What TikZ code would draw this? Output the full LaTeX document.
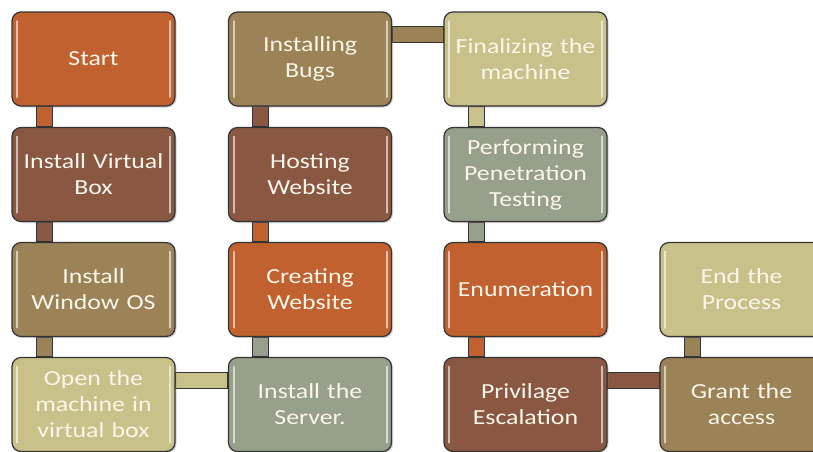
\documentclass[tikz,border=0pt]{standalone}
\usepackage{fontspec}
\setmainfont{Carlito}[FakeStretch=1.2, WordSpace=0.6]
\usetikzlibrary{shadows}
\pgfdeclarelayer{background}
\pgfsetlayers{background,main}
\definecolor{corange}{HTML}{C0612F}
\definecolor{cbrown}{HTML}{8A5842}
\definecolor{ctan}{HTML}{9B8257}
\definecolor{ckhaki}{HTML}{C9C18A}
\definecolor{cgrey}{HTML}{97A08A}
\definecolor{cline}{HTML}{333333}
\definecolor{ctext}{HTML}{FAF6EA}
\tikzset{
  box/.style={draw=cline, line width=1.2pt, rounded corners=9pt, fill=#1,
    minimum width=163pt, minimum height=94pt, inner sep=0pt,
    text width=160pt, align=center, text=ctext,
    font=\fontsize{21.5}{26}\selectfont,
    drop shadow={opacity=0.35, shadow xshift=1.5pt, shadow yshift=-1.5pt},
    path picture={
      \draw[white, opacity=0.6, line width=2pt, line cap=round]
        ([xshift=5pt,yshift=-9pt]path picture bounding box.north west) --
        ([xshift=5pt,yshift=9pt]path picture bounding box.south west);
      \draw[white, opacity=0.6, line width=2pt, line cap=round]
        ([xshift=-5pt,yshift=-9pt]path picture bounding box.north east) --
        ([xshift=-5pt,yshift=9pt]path picture bounding box.south east);
    }},
  conn/.style={draw=cline, line width=1pt, fill=#1}
}
\begin{document}
\begin{tikzpicture}[x=1pt,y=-1pt]
\useasboundingbox (0,0) rectangle (813,451);
\clip (0,0) rectangle (813,451);
% column 1
\node[box=corange] (start) at (93.5,59) {Start};
\node[box=cbrown] (ivb) at (93.5,174.5) {Install Virtual\\Box};
\node[box=ctan] (iwo) at (93.5,289.5) {Install\\Window OS};
\node[box=ckhaki] (open) at (93.5,404.5) {Open the\\machine in\\virtual box};
% column 2
\node[box=cgrey] (server) at (310,404.5) {Install the\\Server.};
\node[box=corange] (create) at (310,289.5) {Creating\\Website};
\node[box=cbrown] (host) at (310,174.5) {Hosting\\Website};
\node[box=ctan] (bugs) at (310,59) {Installing\\Bugs};
% column 3
\node[box=ckhaki] (final) at (525.5,59) {Finalizing the\\machine};
\node[box=cgrey] (pentest) at (525.5,174.5) {Performing\\Penetration\\Testing};
\node[box=corange] (enum) at (525.5,289.5) {Enumeration};
\node[box=cbrown] (priv) at (525.5,404.5) {Privilage\\Escalation};
% column 4
\node[box=ctan] (grant) at (741.5,404.5) {Grant the\\access};
\node[box=ckhaki] (endp) at (741.5,289.5) {End the\\Process};
\begin{pgfonlayer}{background}
% vertical connectors
\path[conn=corange] ([xshift=25pt]start.south west) rectangle ([xshift=41pt]ivb.north west);
\path[conn=cbrown] ([xshift=25pt]ivb.south west) rectangle ([xshift=41pt]iwo.north west);
\path[conn=ctan] ([xshift=25pt]iwo.south west) rectangle ([xshift=41pt]open.north west);
\path[conn=cgrey] ([xshift=25pt]server.north west) rectangle ([xshift=41pt]create.south west);
\path[conn=corange] ([xshift=25pt]create.north west) rectangle ([xshift=41pt]host.south west);
\path[conn=cbrown] ([xshift=25pt]host.north west) rectangle ([xshift=41pt]bugs.south west);
\path[conn=ckhaki] ([xshift=25pt]final.south west) rectangle ([xshift=41pt]pentest.north west);
\path[conn=cgrey] ([xshift=25pt]pentest.south west) rectangle ([xshift=41pt]enum.north west);
\path[conn=corange] ([xshift=25pt]enum.south west) rectangle ([xshift=41pt]priv.north west);
\path[conn=ctan] ([xshift=25pt]grant.north west) rectangle ([xshift=41pt]endp.south west);
% horizontal connectors
\path[conn=ckhaki] ([yshift=-16pt]open.north east) rectangle ([yshift=-32pt]server.north west);
\path[conn=ctan] ([yshift=-15pt]bugs.north east) rectangle ([yshift=-31pt]final.north west);
\path[conn=cbrown] ([yshift=-16pt]priv.north east) rectangle ([yshift=-32pt]grant.north west);
\end{pgfonlayer}
\end{tikzpicture}
\end{document}
